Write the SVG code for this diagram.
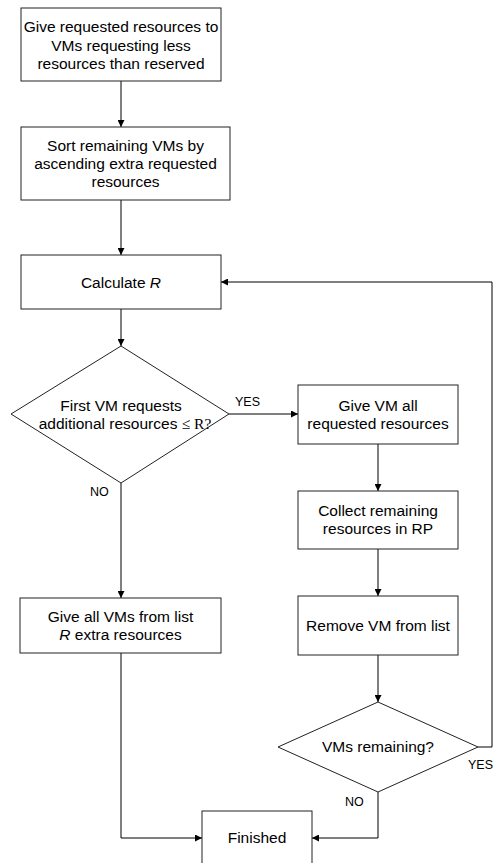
<svg xmlns="http://www.w3.org/2000/svg" width="495" height="863" viewBox="0 0 495 863">
<style>
.n{fill:#fff;stroke:#222;stroke-width:1}
.t{font-family:"Liberation Sans",Arial,sans-serif;font-size:15.5px;fill:#000;text-anchor:middle}
.l{font-family:"Liberation Sans",Arial,sans-serif;font-size:12.5px;fill:#000}
.c{fill:none;stroke:#000;stroke-width:1}
</style>
<defs>
<marker id="a" viewBox="0 0 10 10" refX="10" refY="5" markerWidth="7" markerHeight="7" markerUnits="userSpaceOnUse" orient="auto">
<path d="M0,0 L10,5 L0,10 z" fill="#000"/>
</marker>
</defs>
<g id="connectors">
<line class="c" x1="121" y1="81" x2="121" y2="127" marker-end="url(#a)"/>
<line class="c" x1="121" y1="200" x2="121" y2="255" marker-end="url(#a)"/>
<line class="c" x1="121" y1="309" x2="121" y2="346" marker-end="url(#a)"/>
<line class="c" x1="229" y1="414" x2="298" y2="414" marker-end="url(#a)"/>
<line class="c" x1="378" y1="444" x2="378" y2="491" marker-end="url(#a)"/>
<line class="c" x1="378" y1="549" x2="378" y2="596" marker-end="url(#a)"/>
<line class="c" x1="378" y1="655" x2="378" y2="702" marker-end="url(#a)"/>
<line class="c" x1="121" y1="483" x2="121" y2="598" marker-end="url(#a)"/>
<polyline class="c" points="121,653 121,838 202,838" marker-end="url(#a)"/>
<polyline class="c" points="378,792 378,838 312,838" marker-end="url(#a)"/>
<polyline class="c" points="478,747 492,747 492,282 221,282" marker-end="url(#a)"/>
<text class="l" x="235" y="406">YES</text>
<text class="l" x="90" y="496">NO</text>
<text class="l" x="468" y="769">YES</text>
<text class="l" x="345" y="806">NO</text>
</g>
<g id="n1">
<rect class="n" x="21" y="8" width="200" height="73"/>
<text class="t" x="121" y="32">Give requested resources to</text>
<text class="t" x="121" y="50.5">VMs requesting less</text>
<text class="t" x="121" y="69">resources than reserved</text>
</g>
<g id="n2">
<rect class="n" x="21" y="127" width="209" height="73"/>
<text class="t" x="125.5" y="151">Sort remaining VMs by</text>
<text class="t" x="125.5" y="169">ascending extra requested</text>
<text class="t" x="125.5" y="187">resources</text>
</g>
<g id="n3">
<rect class="n" x="21" y="255" width="200" height="54"/>
<text class="t" x="121" y="287.5">Calculate <tspan font-style="italic">R</tspan></text>
</g>
<g id="d1">
<polygon class="n" points="121,346 229,414 121,483 11,414"/>
<text class="t" x="121" y="410.5">First VM requests</text>
<text class="t" x="125" y="429">additional resources <tspan font-family="'Liberation Serif',serif">≤ R?</tspan></text>
</g>
<g id="n4">
<rect class="n" x="298" y="385" width="160" height="59"/>
<text class="t" x="378" y="411">Give VM all</text>
<text class="t" x="378" y="429">requested resources</text>
</g>
<g id="n5">
<rect class="n" x="298" y="491" width="160" height="58"/>
<text class="t" x="378" y="515.5">Collect remaining</text>
<text class="t" x="378" y="534">resources in RP</text>
</g>
<g id="n6">
<rect class="n" x="298" y="596" width="160" height="59"/>
<text class="t" x="378" y="630.5">Remove VM from list</text>
</g>
<g id="d2">
<polygon class="n" points="378,702 478,747 378,792 278,747"/>
<text class="t" x="378" y="752">VMs remaining?</text>
</g>
<g id="n7">
<rect class="n" x="20" y="598" width="201" height="55"/>
<text class="t" x="120.5" y="621.5">Give all VMs from list</text>
<text class="t" x="120.5" y="639.5"><tspan font-style="italic">R</tspan> extra resources</text>
</g>
<g id="n8">
<rect class="n" x="202" y="811" width="110" height="60"/>
<text class="t" x="257" y="843">Finished</text>
</g>
</svg>
